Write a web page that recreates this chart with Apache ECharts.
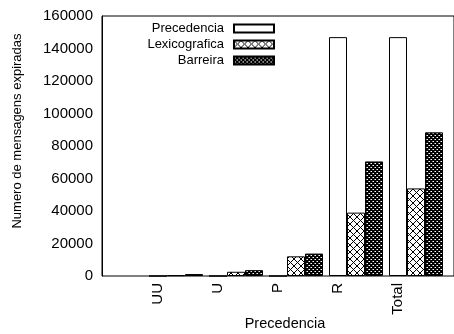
<!DOCTYPE html>
<html><head><meta charset="utf-8">
<script src="https://cdn.jsdelivr.net/npm/echarts@6/dist/echarts.min.js"></script>
<style>html,body{margin:0;padding:0;background:#fff}#c{width:454px;height:334px}</style>
</head><body><div id="c"></div>
<script>
const categories = ['UU', 'U', 'P', 'R', 'Total'];
const seriesNames = ['Precedencia', 'Lexicografica', 'Barreira'];
const precedencia = [0, 0, 0, 147000, 147000];
const lexicografica = [500, 2600, 12100, 39000, 53900];
const barreira = [1200, 3600, 13800, 70500, 88400];
const yTicks = [0, 20000, 40000, 60000, 80000, 100000, 120000, 140000, 160000];
const xTitle = 'Precedencia';
const yTitle = 'Numero de mensagens expiradas';

function crossPattern() {
  const c = document.createElement('canvas'); c.width = 7; c.height = 7;
  const g = c.getContext('2d');
  g.fillStyle = '#fff'; g.fillRect(0, 0, 7, 7);
  g.strokeStyle = '#000'; g.lineWidth = 1;
  g.beginPath(); g.moveTo(0, 0); g.lineTo(7, 7); g.moveTo(7, 0); g.lineTo(0, 7); g.stroke();
  return c;
}
function densePattern() {
  const c = document.createElement('canvas'); c.width = 4; c.height = 4;
  const g = c.getContext('2d');
  g.fillStyle = '#000'; g.fillRect(0, 0, 4, 4);
  g.fillStyle = '#fff';
  g.fillRect(1, 1, 1, 1); g.fillRect(3, 3, 1, 1);
  g.fillStyle = '#888';
  g.fillRect(0, 1, 1, 1); g.fillRect(2, 3, 1, 1);
  return c;
}
const fills = ['#ffffff', { image: crossPattern(), repeat: 'repeat' }, { image: densePattern(), repeat: 'repeat' }];
const values = [precedencia, lexicografica, barreira];
const font = 'Liberation Sans';
const chart = echarts.init(document.getElementById('c'), null, { renderer: 'canvas' });
chart.setOption({
  animation: false,
  backgroundColor: '#fff',
  textStyle: { fontFamily: font },
  grid: [
    { left: 102, right: -8, top: 16, bottom: 58, show: true, borderColor: '#000', borderWidth: 1, backgroundColor: 'transparent' },
    { left: 146, width: 300, top: 16, bottom: 58 },
    { left: 128, width: 300, top: 16, bottom: 58 }
  ],
  xAxis: [
    { gridIndex: 0, type: 'value', min: 0, max: 1, show: false },
    { gridIndex: 1, type: 'category', data: categories, show: false },
    { gridIndex: 2, type: 'category', data: categories, axisLine: { show: false }, axisTick: { show: false },
      axisLabel: { rotate: 90, fontSize: 15, color: '#000', fontFamily: font, margin: 7 } }
  ],
  yAxis: [
    { gridIndex: 0, type: 'value', min: 0, max: 160000, interval: 20000,
      axisLine: { show: true, lineStyle: { color: '#000' } }, axisTick: { show: false }, splitLine: { show: false },
      axisLabel: { fontSize: 15, color: '#000', fontFamily: font, margin: 9, formatter: v => String(v) } },
    { gridIndex: 1, type: 'value', min: 0, max: 160000, interval: 20000, show: false, splitLine: { show: false } },
    { gridIndex: 2, type: 'value', min: 0, max: 160000, show: false, splitLine: { show: false } }
  ],
  legend: {
    orient: 'vertical', align: 'right', right: 174, top: 17, itemWidth: 40, itemHeight: 8, itemGap: 3,
    icon: 'rect', data: seriesNames,
    textStyle: { fontSize: 13, color: '#000', fontFamily: font, lineHeight: 13, padding: [0, 5, 0, 0] }
  },
  title: { text: xTitle, left: 280, top: 311, textAlign: 'center',
    textStyle: { fontSize: 14.5, fontWeight: 'normal', color: '#000', fontFamily: font } },
  graphic: [{ type: 'text', x: 17, y: 131, rotation: Math.PI / 2,
    style: { text: yTitle, fill: '#000', font: '13px "Liberation Sans"', align: 'center', verticalAlign: 'middle' } }],
  series: seriesNames.map((n, i) => ({
    name: n, type: 'bar', xAxisIndex: 1, yAxisIndex: 1, data: values[i],
    barWidth: 18, barGap: '0%',
    itemStyle: { color: fills[i], borderColor: '#000', borderWidth: 1 }
  }))
});
</script></body></html>
